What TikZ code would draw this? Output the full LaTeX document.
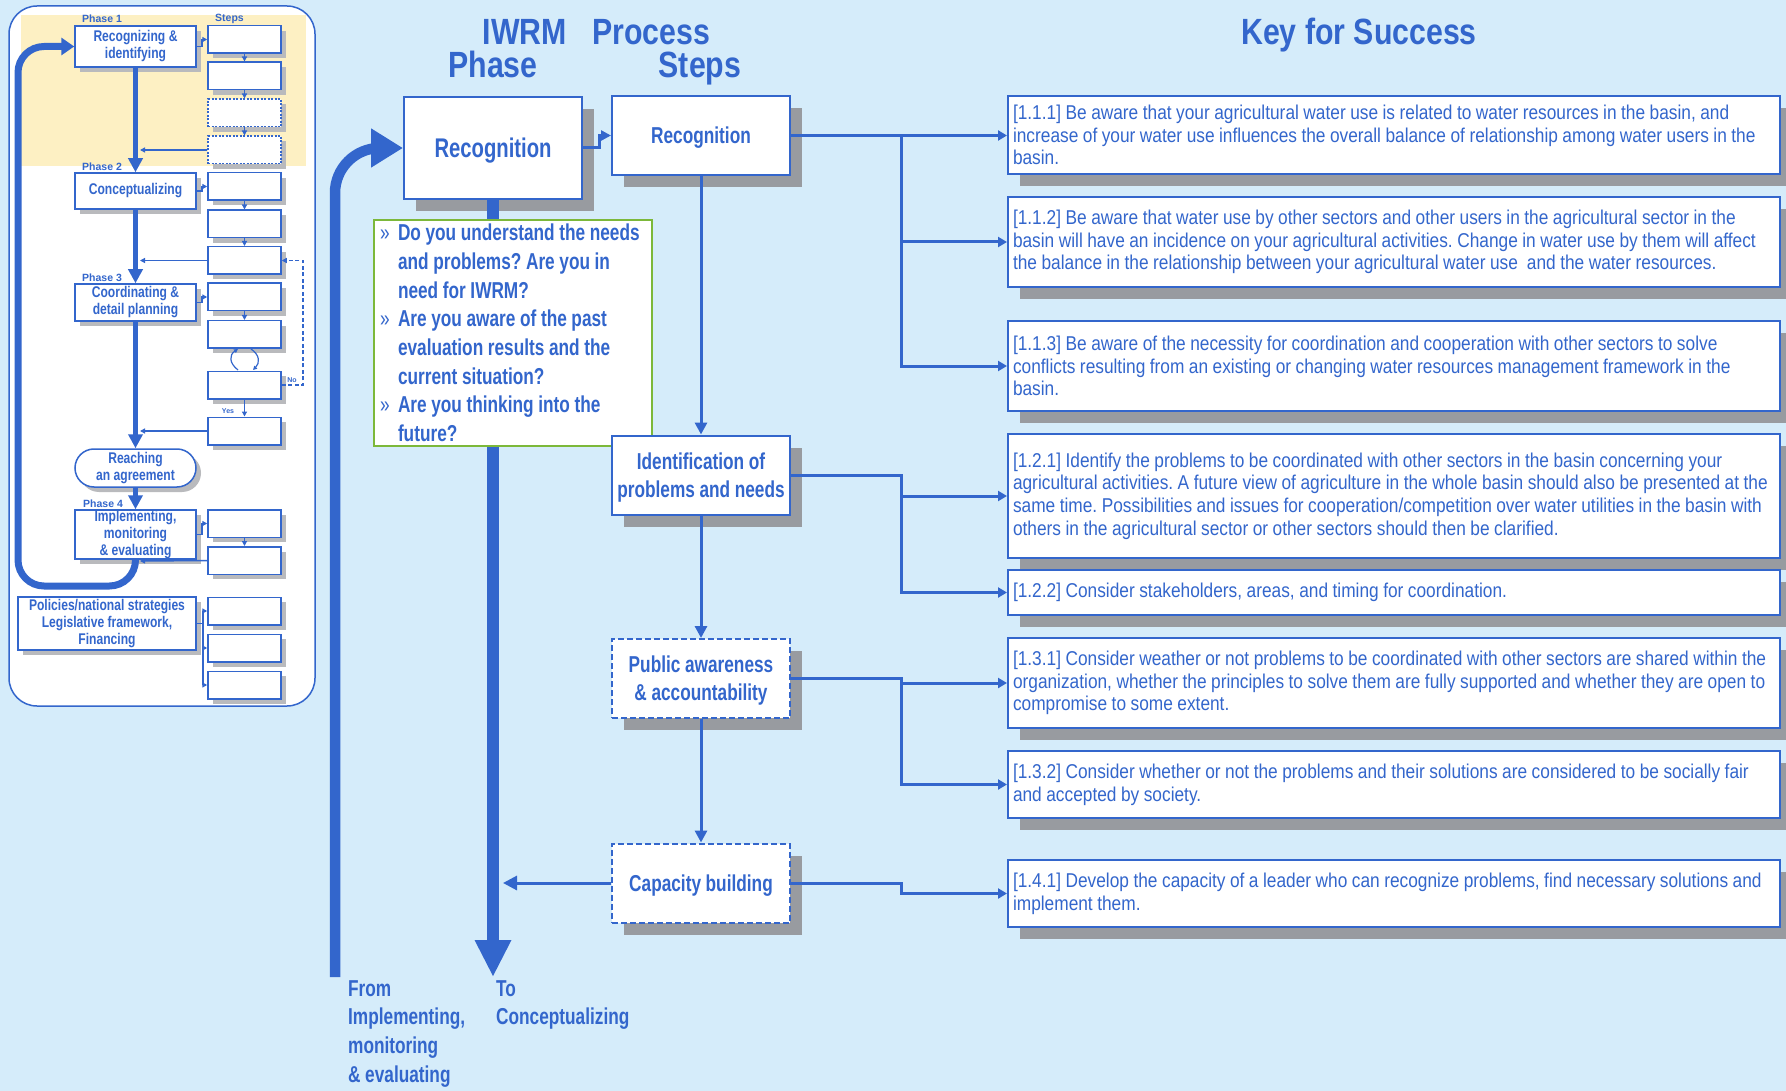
\documentclass[tikz,border=0pt]{standalone}
\usepackage{fontspec}
\setmainfont{Liberation Sans}
\newfontfamily\fnb[FakeStretch=0.75]{Liberation Sans}
\newfontfamily\fnr[FakeStretch=0.865]{Liberation Sans}
\newfontfamily\ftt[FakeStretch=0.83]{Liberation Sans}
\newfontfamily\fmini[FakeStretch=0.78]{Liberation Sans}
\newcommand\kfnt{\fnr\fontsize{20}{22.7}\selectfont}
\newcommand\bfnt[2]{\fnb\bfseries\fontsize{#1}{#2}\selectfont}
\newcommand\mfnt{\fmini\bfseries\fontsize{15.5}{17}\selectfont}
\newcommand\setsp[1]{\spaceskip=#1 plus 1pt minus 1pt\xspaceskip=#1 plus 1pt minus 1pt\relax}
\usetikzlibrary{arrows.meta}
\definecolor{bg}{HTML}{D5ECFA}
\definecolor{bl}{HTML}{3366CC}
\definecolor{shd}{HTML}{989BA0}
\definecolor{mshd}{HTML}{B9BABD}
\definecolor{grn}{HTML}{7CB83A}
\definecolor{ylw}{HTML}{FDF0C3}
\begin{document}
\frenchspacing
\begin{tikzpicture}[x=1pt,y=-1pt,
  shadowed/.style={preaction={fill=shd, draw=none, transform canvas={xshift=12pt,yshift=-12pt}}},
  mshadowed/.style={preaction={fill=mshd, draw=none, transform canvas={xshift=5pt,yshift=-5pt}}},
  conn/.style={draw=bl, line width=3pt},
  ctip/.style={-{Triangle[length=12pt,width=12pt]}},
  ktip/.style={-{Triangle[length=9pt,width=10pt]}},
  pbox/.style={draw=bl, line width=2pt, fill=white, shadowed, text=bl, inner sep=0pt, text depth=0pt,
     font={\bfnt{27}{32}}},
  sbox/.style={draw=bl, line width=2pt, fill=white, shadowed, text=bl, align=center, inner sep=0pt,
     minimum width=178pt, minimum height=79pt, text depth=0pt, font={\bfnt{23}{27.7}},
     execute at begin node={\setsp{4.6pt}}},
  dbox/.style={sbox, dash pattern=on 6pt off 3pt},
  kbox/.style={draw=bl, line width=2pt, fill=white, shadowed, text=bl, align=left, text width=762pt,
     inner xsep=5pt, inner ysep=0pt, font=\kfnt, execute at begin node={\setsp{4.5pt}}},
  qbox/.style={draw=grn, line width=2pt, fill=white, text=bl, align=left, text width=266pt,
     inner xsep=6pt, inner ysep=0pt, minimum height=226pt, font={\bfnt{23}{28.7}},
     execute at begin node={\setsp{4.6pt}}},
  ttl/.style={text=bl, inner sep=0pt, font=\ftt\bfseries\fontsize{36.5}{40}\selectfont},
  btxt/.style={text=bl, align=left, inner sep=0pt, font={\bfnt{23}{28.7}},
     execute at begin node={\setsp{4.6pt}}},
  mbox/.style={draw=bl, line width=1.5pt, fill=white, mshadowed, text=bl, align=center, inner sep=0pt,
     font=\mfnt, execute at begin node={\setsp{3.4pt}}},
  mstep/.style={draw=bl, line width=1.5pt, fill=white, mshadowed, minimum width=73pt, minimum height=27.5pt, inner sep=0pt},
  mdash/.style={mstep, dash pattern=on 2pt off 1.5pt},
  mconn/.style={draw=bl, line width=1.5pt, -{Triangle[length=5pt,width=5pt]}},
  mthick/.style={draw=bl, line width=5pt, -{Triangle[length=14pt,width=14pt]}},
  mlabel/.style={text=bl, inner sep=0pt, font=\bfseries\fontsize{10.5}{12}\selectfont},
  mtiny/.style={text=bl, inner sep=0pt, font=\bfseries\fontsize{7}{8}\selectfont}
]
\fill[bg] (0,0) rectangle (1786,1091);
\useasboundingbox (0,0) rectangle (1786,1091);

% ---------------- mini overview panel ----------------
\fill[white, rounded corners=28pt] (9,6) rectangle (315,706);
\fill[ylw] (21,15) rectangle (306,166);
\draw[bl, line width=1.5pt, rounded corners=28pt] (9,6) rectangle (315,706);

\node[mlabel, anchor=west] (lp1) at (82,19) {Phase 1};
\node[mlabel, anchor=west] (lst) at (215,19) {Steps};
\node[mlabel, anchor=west] (lp2) at (82,167) {Phase 2};
\node[mlabel, anchor=west] (lp3) at (82,278) {Phase 3};
\node[mlabel, anchor=west] (lp4) at (83,504) {Phase 4};

\foreach \n/\y in {1/39.5,2/76,5/186.5,6/224,7/260.5,8/297,9/334.5,10/385,11/431,12/523.5,13/560.5,14/611,15/648,16/685}
  \node[mstep] (ms\n) at (244.5,\y) {};
\node[mdash] (ms3) at (244.5,113) {};
\node[mdash] (ms4) at (244.5,150) {};

% big feedback loop
\node[mbox, minimum width=121pt, minimum height=49pt] (mp4) at (135.5,534.5) {Implementing,\\monitoring\\\& evaluating};
\node[mbox, minimum width=121pt, minimum height=41pt] (mp1) at (135.5,46.5) {Recognizing \&\\identifying};
\draw[draw=bl, line width=7pt, rounded corners=26pt, -{Triangle[length=13pt,width=17pt]}]
  (mp4.south) -- (135.5,586) -- (18,586) -- (18,46.5) -- (mp1.west);
\node[mbox, minimum width=121pt, minimum height=36pt] (mp2) at (135.5,191) {Conceptualizing};
\node[mbox, minimum width=121pt, minimum height=37pt] (mp3) at (135.5,302.5) {Coordinating \&\\detail planning};
\node[mbox, rounded corners=19pt, minimum width=121pt, minimum height=38pt] (mr) at (135.5,468) {Reaching\\an agreement};
\node[mbox, minimum width=178pt, minimum height=53pt] (mpol) at (107,623.5) {Policies/national strategies\\Legislative framework,\\Financing};

\draw[mthick] (mp1.south) -- (mp2.north);
\draw[mthick] (mp2.south) -- (mp3.north);
\draw[mthick] (mp3.south) -- (mr.north);
\draw[mthick] (mr.south) -- (mp4.north);

\draw[mconn] (mp1.east) -- ++(5,0) |- (ms1.west);
\draw[mconn] (mp2.east) -- ++(5,0) |- (ms5.west);
\draw[mconn] (mp3.east) -- ++(5,0) |- (ms8.west);
\draw[mconn] (mp4.east) -- ++(5,0) |- (ms12.west);
\foreach \a/\b in {1/2,2/3,3/4,5/6,6/7,8/9,10/11,12/13}
  \draw[mconn] (ms\a.south) -- (ms\b.north);
\coordinate (r4) at (140,150);
\coordinate (r7) at (140,260.5);
\coordinate (r11) at (140,431);
\coordinate (r13) at (140,561);
\draw[mconn] (ms4.west) -- (r4);
\draw[mconn] (ms7.west) -- (r7);
\draw[mconn] (ms11.west) -- (r11);
\draw[mconn] (ms13.west) -- (r13);
\draw[mconn] (mpol.east) -- ++(6,0) |- (ms14.west);
\draw[mconn] (mpol.east) -- ++(6,0) |- (ms15.west);
\draw[mconn] (mpol.east) -- ++(6,0) |- (ms16.west);
% no / yes
\coordinate (nA) at (303,385);
\coordinate (nB) at (303,260.5);
\draw[mconn, dash pattern=on 4pt off 2.5pt] (ms10.east) -- (nA) -- (nB) -- (ms7.east);
\node[mtiny] (lno) at (292,380) {No};
\node[mtiny] (lyes) at (228,411) {Yes};
\draw[draw=bl, line width=1.2pt, -{Triangle[length=4pt,width=4pt]}] (238,370) .. controls (229,363) and (229,355) .. (238,349);
\draw[draw=bl, line width=1.2pt, -{Triangle[length=4pt,width=4pt]}] (251,349) .. controls (260,355) and (260,363) .. (253,370);

% ---------------- titles ----------------
\node[ttl, anchor=base] (tI) at (525,45) {IWRM};
\node[ttl, anchor=base] (tP) at (651,45) {Process};
\node[ttl, anchor=base] (tPh) at (493,78) {Phase};
\node[ttl, anchor=base] (tS) at (700,78) {Steps};
\node[ttl, anchor=base] (tK) at (1359,45) {Key for Success};

% ---------------- phase & steps ----------------
\node[pbox, minimum width=178pt, minimum height=102pt] (ph) at (493,148) {Recognition};
\coordinate (toC) at (493,977);
\coordinate (fromI) at (335,977);
\draw[draw=bl, line width=12pt, -{Triangle[length=37pt,width=34pt]}] (ph.south) -- (toC);
\draw[draw=bl, line width=10.5pt, rounded corners=45pt, -{Triangle[length=32pt,width=37pt]}] (fromI) |- (ph.west);

\node[qbox] (q) at (513,333) {%
\makebox[18pt][l]{\mdseries »}Do you understand the needs\\
\hspace*{18pt}and problems? Are you in\\
\hspace*{18pt}need for IWRM?\\
\makebox[18pt][l]{\mdseries »}Are you aware of the past\\
\hspace*{18pt}evaluation results and the\\
\hspace*{18pt}current situation?\\
\makebox[18pt][l]{\mdseries »}Are you thinking into the\\
\hspace*{18pt}future?};

\node[sbox] (st1) at (701,135.5) {Recognition};
\node[sbox] (st2) at (701,475) {Identification of\\problems and needs};
\node[dbox] (st3) at (701,678.5) {Public awareness\\\& accountability};
\node[dbox] (st4) at (701,883) {Capacity building};

\draw[conn, -{Triangle[length=10pt,width=10pt]}] (ph.east) -- ++(16,0) |- (st1.west);
\draw[conn, ctip] (st1.south) -- (st2.north);
\draw[conn, ctip] (st2.south) -- (st3.north);
\draw[conn, ctip] (st3.south) -- (st4.north);
\coordinate (capE) at (503,883);
\draw[conn, -{Triangle[length=14pt,width=14pt]}] (st4.west) -- (capE);

\node[btxt, anchor=north west] (lf) at (348,980) {From\\Implementing,\\monitoring\\\& evaluating};
\node[btxt, anchor=north west] (lt) at (496,980) {To\\Conceptualizing};

% ---------------- key boxes ----------------
\node[kbox, minimum height=78pt] (k111) at (1394,135) {[1.1.1] Be aware that your agricultural water use is related to water resources in the basin, and\\increase of your water use influences the overall balance of relationship among water users in the\\basin.};
\node[kbox, minimum height=90pt] (k112) at (1394,242) {[1.1.2] Be aware that water use by other sectors and other users in the agricultural sector in the\\basin will have an incidence on your agricultural activities. Change in water use by them will affect\\the balance in the relationship between your agricultural water use\ \ and the water resources.};
\node[kbox, minimum height=90pt] (k113) at (1394,366) {[1.1.3] Be aware of the necessity for coordination and cooperation with other sectors to solve\\conflicts resulting from an existing or changing water resources management framework in the\\basin.};
\node[kbox, minimum height=124pt] (k121) at (1394,496) {[1.2.1] Identify the problems to be coordinated with other sectors in the basin concerning your\\agricultural activities. A future view of agriculture in the whole basin should also be presented at the\\same time. Possibilities and issues for cooperation/competition over water utilities in the basin with\\others in the agricultural sector or other sectors should then be clarified.};
\node[kbox, minimum height=45pt] (k122) at (1394,592.5) {[1.2.2] Consider stakeholders, areas, and timing for coordination.};
\node[kbox, minimum height=90pt] (k131) at (1394,683) {[1.3.1] Consider weather or not problems to be coordinated with other sectors are shared within the\\organization, whether the principles to solve them are fully supported and whether they are open to\\compromise to some extent.};
\node[kbox, minimum height=67pt] (k132) at (1394,784.5) {[1.3.2] Consider whether or not the problems and their solutions are considered to be socially fair\\and accepted by society.};
\node[kbox, minimum height=67pt] (k141) at (1394,893.5) {[1.4.1] Develop the capacity of a leader who can recognize problems, find necessary solutions and\\implement them.};

\draw[conn, ktip] (st1.east) -- (st1.east -| k111.west);
\draw[conn, ktip] (st1.east) -- ++(110,0) |- (k112.west);
\draw[conn, ktip] (st1.east) -- ++(110,0) |- (k113.west);
\draw[conn, ktip] (st2.east) -- ++(110,0) |- (k121.west);
\draw[conn, ktip] (st2.east) -- ++(110,0) |- (k122.west);
\draw[conn, ktip] (st3.east) -- ++(110,0) |- (k131.west);
\draw[conn, ktip] (st3.east) -- ++(110,0) |- (k132.west);
\draw[conn, ktip] (st4.east) -- ++(110,0) |- (k141.west);
\end{tikzpicture}
\end{document}
